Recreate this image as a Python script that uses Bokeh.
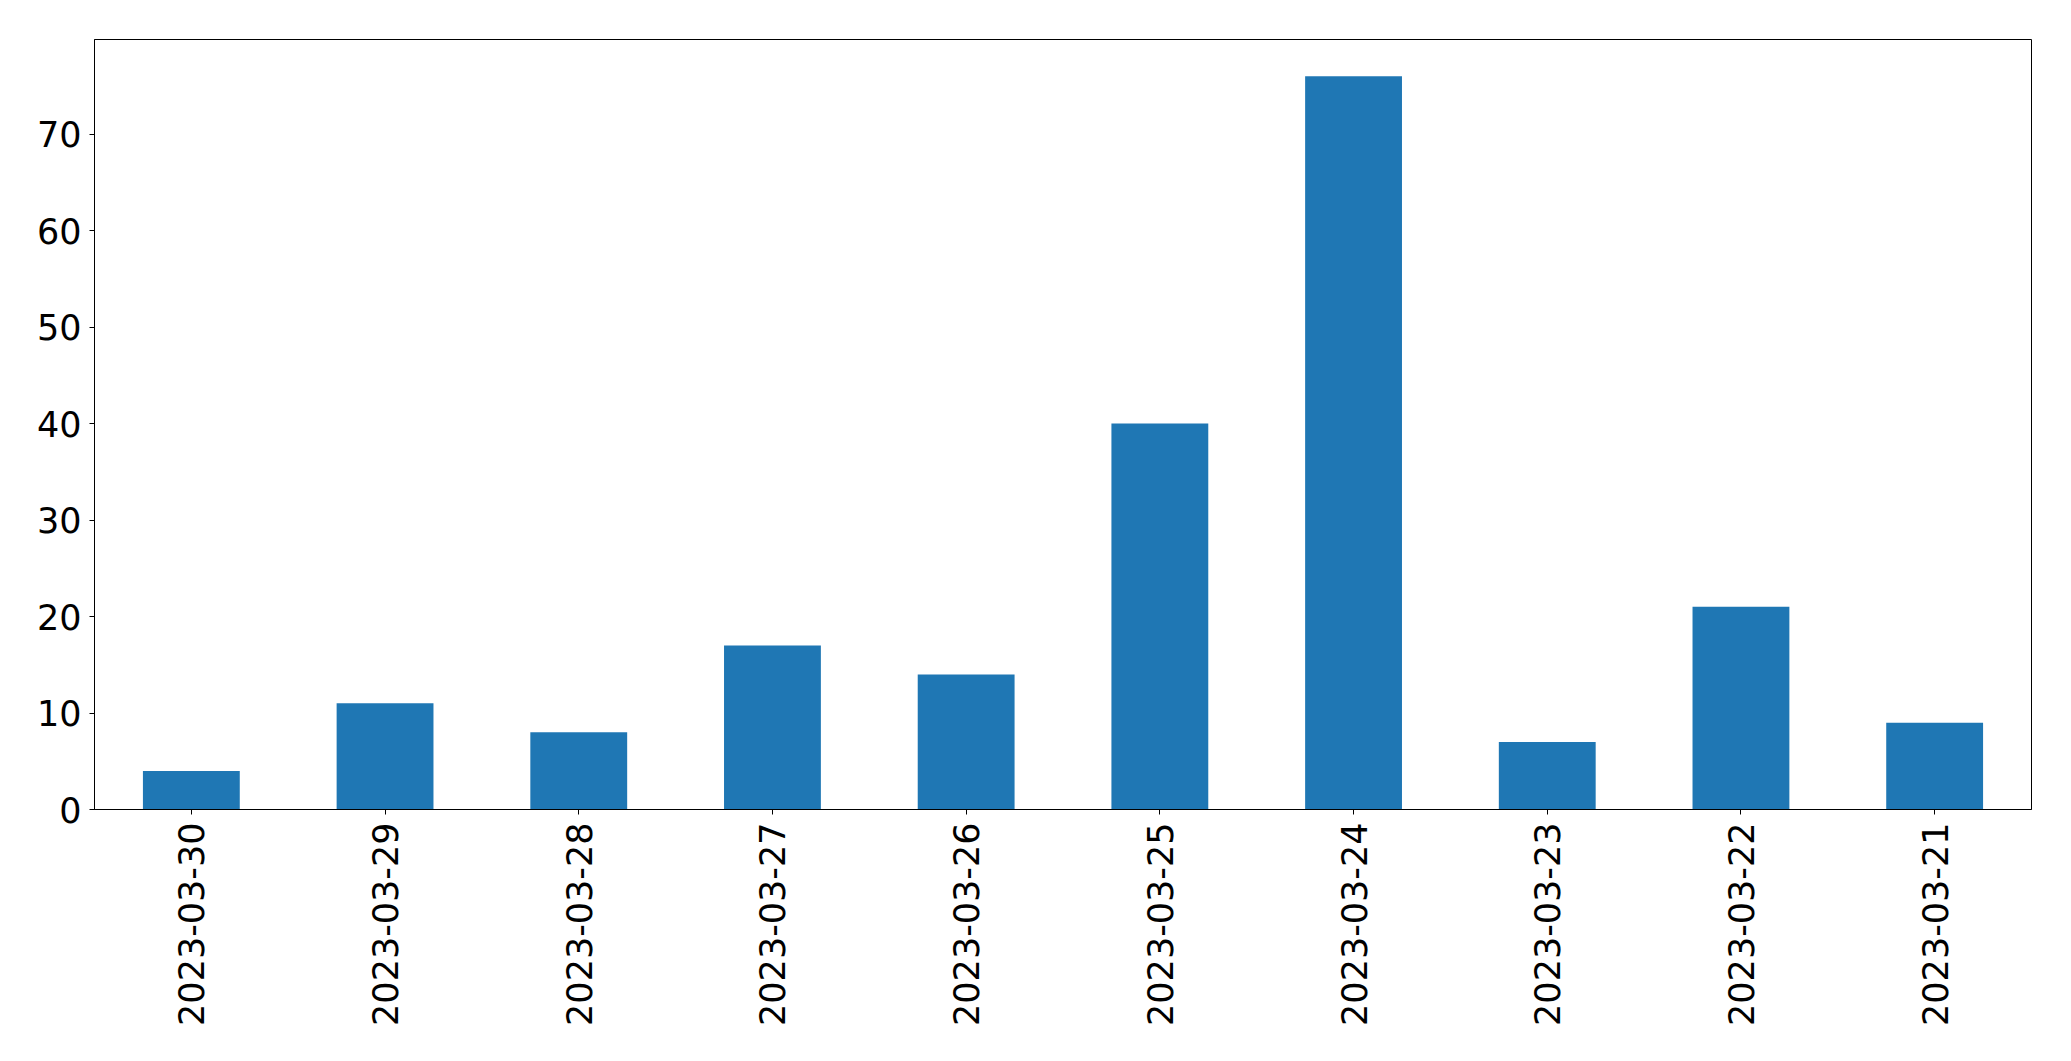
import math
from bokeh.plotting import figure
from bokeh.models import FactorRange, Range1d, FixedTicker, ColumnDataSource
from bokeh.embed import file_html
from bokeh.resources import INLINE

dates = ["2023-03-30", "2023-03-29", "2023-03-28", "2023-03-27", "2023-03-26",
         "2023-03-25", "2023-03-24", "2023-03-23", "2023-03-22", "2023-03-21"]
counts = [4, 11, 8, 17, 14, 40, 76, 7, 21, 9]
y_ticks = [0, 10, 20, 30, 40, 50, 60, 70]

src = ColumnDataSource(dict(x=dates, top=counts))

p = figure(x_range=FactorRange(*dates), y_range=Range1d(0, max(counts) * 1.05),
           frame_width=1937, frame_height=770,
           min_border_left=94, min_border_top=39, min_border_right=30, min_border_bottom=236,
           output_backend="svg", toolbar_location=None)

p.vbar(x="x", top="top", width=0.5, source=src, color="#1f77b4", line_color=None)

p.xgrid.visible = False
p.ygrid.visible = False
p.outline_line_color = "black"
p.outline_line_alpha = 1
p.outline_line_width = 1

p.yaxis.ticker = FixedTicker(ticks=y_ticks)
p.xaxis.major_label_orientation = math.pi / 2

for ax in (p.xaxis[0], p.yaxis[0]):
    ax.major_label_text_font = "DejaVu Sans"
    ax.major_label_text_font_size = "35px"
    ax.major_label_text_color = "black"
    ax.axis_line_color = "black"
    ax.major_tick_line_color = "black"
    ax.major_tick_out = 5
    ax.major_tick_in = 0
    ax.minor_tick_line_color = None
    ax.major_label_standoff = 8

open("out.html", "w").write(file_html(p, INLINE))
